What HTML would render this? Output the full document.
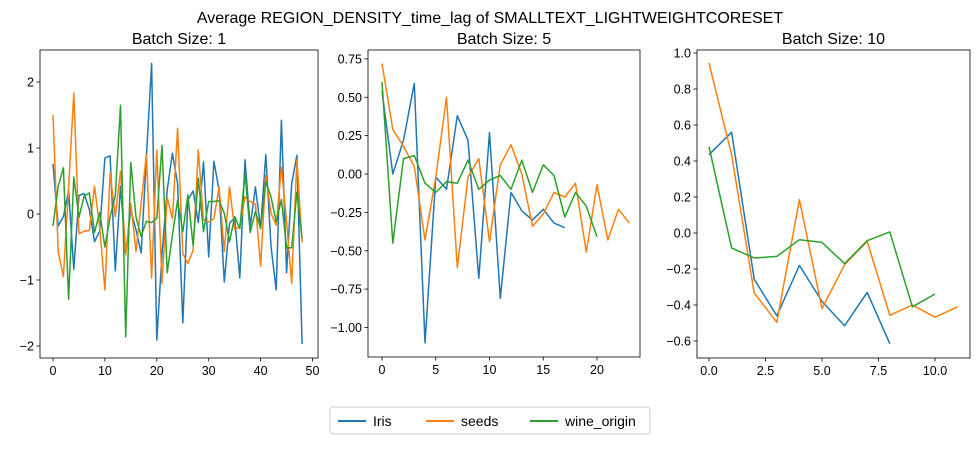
<!DOCTYPE html>
<html><head><meta charset="utf-8"><style>
body{margin:0;background:#fff;width:980px;height:445px;overflow:hidden}
svg{font-family:"Liberation Sans","DejaVu Sans",sans-serif}
</style></head><body>
<svg id="chart" width="980" height="445" viewBox="0 0 980 445" xmlns="http://www.w3.org/2000/svg">
<text x="490" y="23" text-anchor="middle" font-size="16">Average REGION_DENSITY_time_lag of SMALLTEXT_LIGHTWEIGHTCORESET</text>
<g>
<rect x="330" y="407" width="320" height="27" fill="#fff" stroke="#ccc" rx="3"/>
<line x1="338" y1="421" x2="366" y2="421" stroke="#1f77b4" stroke-width="2"/>
<text x="373" y="426" font-size="14">Iris</text>
<line x1="426" y1="421" x2="454" y2="421" stroke="#ff7f0e" stroke-width="2"/>
<text x="461" y="426" font-size="14">seeds</text>
<line x1="530" y1="421" x2="558" y2="421" stroke="#2ca02c" stroke-width="2"/>
<text x="565" y="426" font-size="14">wine_origin</text>
</g>
</svg>
<script>
const p1Iris=[0.76,-0.18,-0.04,0.35,-0.84,0.28,0.31,0.07,-0.42,-0.26,0.85,0.88,-0.86,0.42,-0.6,0.06,-0.24,-0.59,0.87,2.28,-1.91,-0.6,0.36,0.92,0.46,-1.65,0.21,0.35,-0.13,0.79,-0.65,0.8,0.36,-1.03,-0.14,-0.06,-0.97,0.82,-0.19,0.41,-0.22,0.9,-0.49,-1.15,1.42,-0.89,0.46,0.89,-1.97];
const p1Seeds=[1.5,-0.57,-0.95,0.4,1.83,-0.3,-0.26,-0.25,0.42,-0.2,-1.15,0.62,-0.04,0.65,-0.62,0.16,-0.57,0.17,0.9,-0.97,0.97,-1.05,0.25,-0.07,1.3,-0.6,-0.75,-0.55,0.97,-0.09,-0.12,-0.07,0.41,-0.57,0.41,-0.24,-0.19,0.26,0.19,0.15,-0.79,0.59,0.01,-0.17,0.71,-0.12,-1.05,0.82,-0.43];
const p1Wine=[-0.18,0.42,0.7,-1.29,0.56,-0.05,0.27,0.32,-0.28,0.02,-0.5,-0.04,0.27,1.65,-1.86,0.78,-0.05,-0.34,-0.11,-0.13,-0.06,1.04,-0.89,-0.32,0.21,-0.27,0.29,-0.48,0.54,-0.27,0.19,0.19,0.2,0.01,-0.42,-0.04,-0.22,0.62,-0.28,0.04,-0.22,0.49,0.26,-0.12,0.22,-0.51,-0.51,0.33,-0.37];
const p2Iris=[0.54,0.0,0.22,0.59,-1.1,-0.02,-0.1,0.38,0.22,-0.68,0.27,-0.81,-0.12,-0.24,-0.3,-0.23,-0.32,-0.35];
const p2Seeds=[0.72,0.29,0.18,0.05,-0.43,-0.02,0.5,-0.61,-0.02,0.1,-0.44,0.06,0.19,0.0,-0.34,-0.26,-0.12,-0.15,-0.06,-0.51,-0.07,-0.43,-0.23,-0.32];
const p2Wine=[0.6,-0.45,0.1,0.12,-0.06,-0.12,-0.05,-0.06,0.09,-0.1,-0.04,-0.01,-0.1,0.09,-0.12,0.06,-0.01,-0.28,-0.12,-0.21,-0.41];
const p3Iris=[0.435,0.56,-0.256,-0.46,-0.18,-0.38,-0.515,-0.33,-0.615];
const p3Seeds=[0.944,0.435,-0.333,-0.496,0.185,-0.42,-0.176,-0.046,-0.457,-0.4,-0.468,-0.41];
const p3Wine=[0.48,-0.083,-0.139,-0.13,-0.037,-0.052,-0.17,-0.043,0.006,-0.41,-0.339];
const p1XTicks=[0,10,20,30,40,50];
const p1YTicks=[-2,-1,0,1,2];
const p2XTicks=[0,5,10,15,20];
const p2YTicks=[-1.0,-0.75,-0.5,-0.25,0.0,0.25,0.5,0.75];
const p3XTicks=[0,2.5,5,7.5,10];
const p3YTicks=[-0.6,-0.4,-0.2,0.0,0.2,0.4,0.6,0.8,1.0];
const panelTitles=["Batch Size: 1","Batch Size: 5","Batch Size: 10"];

const NS="http://www.w3.org/2000/svg";
const svg=document.getElementById('chart');
function mk(tag,attrs,parent){const e=document.createElementNS(NS,tag);for(const k in attrs)e.setAttribute(k,attrs[k]);parent.appendChild(e);return e;}
const colors=["#1f77b4","#ff7f0e","#2ca02c"];
const seriesNames=["iris","seeds","wine-origin"];
function panel(idx,box,xdom,ydom,xt,yt,xfmt,yfmt,series){
  const g=mk('g',{},svg);
  
  
  const sx=v=>box.x0+(v-xdom[0])/(xdom[1]-xdom[0])*(box.x1-box.x0);
  const sy=v=>box.y1-(v-ydom[0])/(ydom[1]-ydom[0])*(box.y1-box.y0);
  const t=mk('text',{x:(box.x0+box.x1)/2,y:box.y0-6,'text-anchor':'middle','font-size':16},g);
  
  
  t.textContent=panelTitles[idx];
  series.forEach((s,i)=>{
    const pts=s.map((v,j)=>sx(j).toFixed(1)+','+sy(v).toFixed(1)).join(' ');
    const pl=mk('polyline',{points:pts,fill:'none',stroke:colors[i],'stroke-width':1.5,'stroke-linejoin':'round'},g);
    
    
  });
  const r=mk('rect',{x:box.x0,y:box.y0,width:box.x1-box.x0,height:box.y1-box.y0,fill:'none',stroke:'#000','stroke-width':0.8},g);
  
  
  xt.forEach(v=>{
    const x=sx(v);
    mk('line',{x1:x,y1:box.y1,x2:x,y2:box.y1+3.5,stroke:'#000','stroke-width':0.8},g);
    const tx=mk('text',{x:x,y:box.y1+17,'text-anchor':'middle','font-size':12.5},g);
    
    
    tx.textContent=xfmt(v);
  });
  yt.forEach(v=>{
    const y=sy(v);
    mk('line',{x1:box.x0,y1:y,x2:box.x0-3.5,y2:y,stroke:'#000','stroke-width':0.8},g);
    const ty=mk('text',{x:box.x0-6,y:y+4.5,'text-anchor':'end','font-size':12.5},g);
    
    
    ty.textContent=yfmt(v);
  });
}
const m=v=>String(v).replace('-','\u2212');
// panel 1: 0 at x53, 5.19px/unit; 0 at y214, 66px/unit
panel(0,{x0:40,x1:318,y0:50,y1:358},[(40-53)/5.19,(318-53)/5.19],[(214-358)/66,(214-50)/66],p1XTicks,p1YTicks,v=>m(v),v=>m(v),[p1Iris,p1Seeds,p1Wine]);
panel(1,{x0:368,x1:640,y0:50,y1:357},[(368-382)/10.75,(640-382)/10.75],[(174-357)/153.5,(174-50)/153.5],p2XTicks,p2YTicks,v=>m(v),v=>m(v.toFixed(2)),[p2Iris,p2Seeds,p2Wine]);
panel(2,{x0:697,x1:970,y0:50,y1:358},[(697-709)/22.6,(970-709)/22.6],[(233-358)/180,(233-50)/180],p3XTicks,p3YTicks,v=>m(v.toFixed(1)),v=>m(v.toFixed(1)),[p3Iris,p3Seeds,p3Wine]);
</script>
</body></html>
